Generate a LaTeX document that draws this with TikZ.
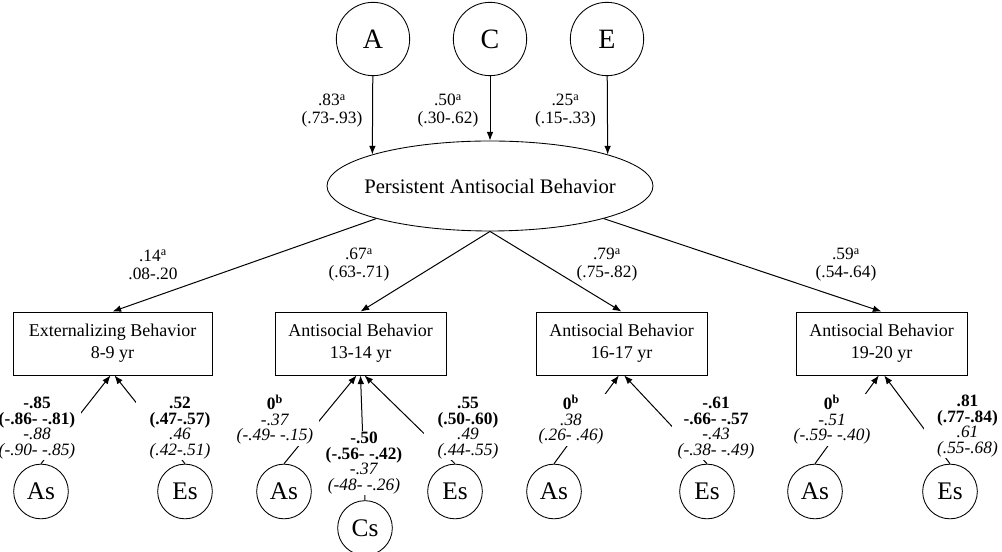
\documentclass[tikz,border=0pt]{standalone}
\usepackage{fontspec}
\setmainfont{Liberation Serif}
\usetikzlibrary{arrows.meta,shapes.geometric}
\lineskiplimit=-5pt

\begin{document}
\begin{tikzpicture}[
    x=0.75pt,y=0.75pt,
    latent/.style={circle,draw,line width=0.65pt,inner sep=0pt},
    bigfactor/.style={latent,minimum size=55pt,font=\fontsize{21}{24}\selectfont},
    smallfactor/.style={latent,minimum size=41pt,font=\fontsize{19}{22}\selectfont},
    measure/.style={
      rectangle,draw,line width=0.65pt,
      minimum height=47.25pt,inner sep=0pt,align=center,
      font=\fontsize{13.5}{16.5}\selectfont
    },
    loadarrow/.style={-{Latex[length=6.5pt,width=5pt]},line width=0.75pt},
    estimate/.style={align=center,inner sep=1pt,font=\fontsize{13}{13.5}\selectfont},
    paramest/.style={
      fill=white,align=center,inner xsep=2pt,inner ysep=1pt,minimum width=66pt,
      font=\fontsize{13}{11.6}\selectfont
    }
  ]

    \useasboundingbox (0,0) rectangle (1002,552);

    \node[
      ellipse,draw,line width=0.65pt,
      minimum width=244.5pt,minimum height=67.5pt,inner sep=0pt,
      label={[font=\fontsize{15.5}{18}\selectfont]center:Persistent Antisocial Behavior}
    ] (pab) at (490,366) {};

    \foreach \n/\x in {A/373,C/490,E/607}{
      \node[bigfactor] (\n) at (\x,513) {\n};
    }

    \draw[loadarrow] (A) -- (pab.165);
    \draw[loadarrow] (C) -- (pab.north);
    \draw[loadarrow] (E) -- (pab.15);

    \node[measure,minimum width=149.25pt] (ext) at (112.5,208.5)
      {Externalizing Behavior\\8-9 yr};
    \node[measure,minimum width=128.25pt] (ab1) at (360.5,208.5)
      {Antisocial Behavior\\13-14 yr};
    \node[measure,minimum width=128.25pt] (ab2) at (621.5,208.5)
      {Antisocial Behavior\\16-17 yr};
    \node[measure,minimum width=128.25pt] (ab3) at (881.5,208.5)
      {Antisocial Behavior\\19-20 yr};

    \draw[loadarrow] (pab.196) -- (ext.north);
    \draw[loadarrow] (pab.south) -- (ab1.north);
    \draw[loadarrow] (pab.south) -- (ab2.north);
    \draw[loadarrow] (pab.344) -- (ab3.north);

    \node[smallfactor] (as1) at (41,60.5) {As};
    \node[smallfactor] (es1) at (185,60.5) {Es};
    \node[smallfactor] (as2) at (284,60.5) {As};
    \node[smallfactor] (cs2) at (365,24) {Cs};
    \node[smallfactor] (es2) at (455,60.5) {Es};
    \node[smallfactor] (as3) at (554,60.5) {As};
    \node[smallfactor] (es3) at (707,60.5) {Es};
    \node[smallfactor] (as4) at (815,60.5) {As};
    \node[smallfactor] (es4) at (950,60.5) {Es};

    \draw[loadarrow] (as1.north) -- ([xshift=-1.5pt]ext.south);
    \draw[loadarrow] (es1.north) -- ([xshift=1.5pt]ext.south);
    \draw[loadarrow] (as2.north) -- ([xshift=-3pt]ab1.south);
    \draw[loadarrow] (cs2.north) -- (ab1.south);
    \draw[loadarrow] (es2.north) -- ([xshift=3pt]ab1.south);
    \draw[loadarrow] (as3.north) -- ([xshift=-2pt]ab2.south);
    \draw[loadarrow] (es3.north) -- ([xshift=2pt]ab2.south);
    \draw[loadarrow] (as4.north) -- ([xshift=-2pt]ab3.south);
    \draw[loadarrow] (es4.north) -- ([xshift=2pt]ab3.south);

    \node[estimate] (lA) at (332,441) {.83\textsuperscript{a}\\(.73-.93)};
    \node[estimate] (lC) at (448,441) {.50\textsuperscript{a}\\(.30-.62)};
    \node[estimate] (lE) at (565.5,441) {.25\textsuperscript{a}\\(.15-.33)};

    \node[estimate] (lext) at (153,287) {.14\textsuperscript{a}\\.08-.20};
    \node[estimate] (lab1) at (359,287) {.67\textsuperscript{a}\\(.63-.71)};
    \node[estimate] (lab2) at (607,287) {.79\textsuperscript{a}\\(.75-.82)};
    \node[estimate] (lab3) at (846,287) {.59\textsuperscript{a}\\(.54-.64)};

    \node[paramest] (las1) at (37,124)
      {\textbf{-.85}\\\textbf{(-.86- -.81)}\\\textit{-.88}\\\textit{(-.90- -.85)}};
    \node[paramest] (les1) at (180,124)
      {\textbf{.52}\\\textbf{(.47-.57)}\\\textit{.46}\\\textit{(.42-.51)}};
    \node[paramest] (las2) at (275,132)
      {\textbf{0\textsuperscript{b}}\\\textit{-.37}\\\textit{(-.49- -.15)}};
    \node[paramest] (lcs2) at (364,89)
      {\textbf{-.50}\\\textbf{(-.56- -.42)}\\\textit{-.37}\\\textit{(-48- -.26)}};
    \node[paramest] (les2) at (468,124)
      {\textbf{.55}\\\textbf{(.50-.60)}\\\textit{.49}\\\textit{(.44-.55)}};
    \node[paramest] (las3) at (571,132)
      {\textbf{0\textsuperscript{b}}\\\textit{.38}\\\textit{(.26- .46)}};
    \node[paramest] (les3) at (716,124)
      {\textbf{-.61}\\\textbf{-.66- -.57}\\\textit{-.43}\\\textit{(-.38- -.49)}};
    \node[paramest] (las4) at (832,132)
      {\textbf{0\textsuperscript{b}}\\\textit{-.51}\\\textit{(-.59- -.40)}};
    \node[paramest] (les4) at (967.5,126)
      {\textbf{.81}\\\textbf{(.77-.84)}\\\textit{.61}\\\textit{(.55-.68)}};

  \end{tikzpicture}
\end{document}
